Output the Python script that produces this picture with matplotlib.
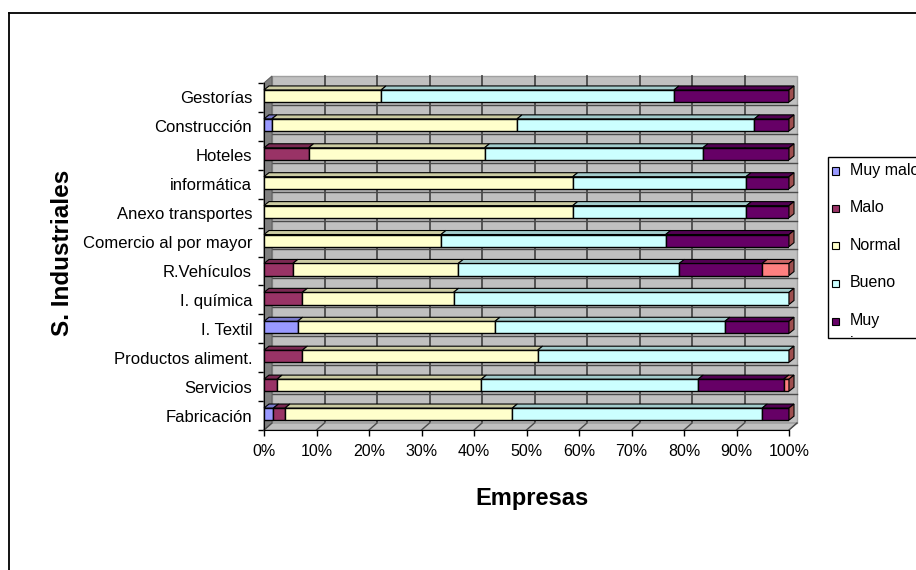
import matplotlib
matplotlib.use("Agg")
import matplotlib.pyplot as plt
from matplotlib.patches import Polygon, Rectangle
from matplotlib.lines import Line2D
from matplotlib.transforms import Bbox, TransformedBbox
import numpy as np

plt.rcParams['font.family'] = ['Liberation Sans', 'DejaVu Sans']

# ---- data -------------------------------------------------------------
categories = ["Fabricación", "Servicios", "Productos aliment.", "I. Textil",
              "I. química", "R.Vehículos", "Comercio al por mayor",
              "Anexo transportes", "informática", "Hoteles",
              "Construcción", "Gestorías"]

series_names = ["Muy malo", "Malo", "Normal", "Bueno", "Muy bueno", "NS/NC"]

muy_malo  = [1.8, 0.0, 0.0, 6.4, 0.0, 0.0, 0.0, 0.0, 0.0, 0.0, 1.5, 0.0]
malo      = [2.2, 2.5, 7.3, 0.0, 7.3, 5.5, 0.0, 0.0, 0.0, 8.5, 0.0, 0.0]
normal    = [43.3, 38.9, 44.8, 37.6, 28.8, 31.5, 33.7, 58.8, 58.8, 33.5, 46.7, 22.3]
bueno     = [47.6, 41.3, 47.9, 43.8, 63.9, 42.1, 42.8, 33.1, 33.0, 41.6, 45.2, 55.8]
muy_bueno = [5.1, 16.3, 0.0, 12.2, 0.0, 15.8, 23.5, 8.1, 8.2, 16.4, 6.6, 21.9]
ns_nc     = [0.0, 1.0, 0.0, 0.0, 0.0, 5.1, 0.0, 0.0, 0.0, 0.0, 0.0, 0.0]

xticks = list(range(0, 101, 10))
xtick_labels = [f"{v}%" for v in xticks]

legend_labels = ["Muy malo", "Malo", "Normal", "Bueno", "Muy\nbueno"]

# ---- style ------------------------------------------------------------
colors = ["#9999FF", "#993366", "#FFFFCC", "#CCFFFF", "#660066", "#FF8080"]
wall_back = "#C0C0C0"
wall_side = "#808080"
grid_col = "#4a4a4a"

W, H = 916, 570
fig = plt.figure(figsize=(W / 100, H / 100), dpi=100)
fig.patch.set_facecolor("white")


def fx(x):
    return x / W


def fy(y):
    return 1 - y / H


ax = fig.add_axes([fx(264), fy(430), 525 / W, 347 / H])
ax.set_facecolor("none")
ax.set_xlim(0, 100)
ax.set_ylim(-0.5, len(categories) - 0.5)

# depth of the walls and bars, converted from pixels to data units
p0 = ax.transData.transform((0, 0))
p1 = ax.transData.transform((1, 1))
ux, uy = p1[0] - p0[0], p1[1] - p0[1]
wdx, wdy = 8 / ux, 7 / uy
bdx, bdy = 5 / ux, 4 / uy

y0, y1 = -0.5, len(categories) - 0.5

# back wall
ax.add_patch(Polygon([(wdx, y0 + wdy), (100 + wdx, y0 + wdy),
                      (100 + wdx, y1 + wdy), (wdx, y1 + wdy)],
                     closed=True, facecolor=wall_back, edgecolor="#a0a0a0",
                     lw=1, clip_on=False, zorder=1))
# gridlines on back wall
for v in xticks[1:-1]:
    ax.add_line(Line2D([v + wdx, v + wdx], [y0 + wdy, y1 + wdy], color=grid_col,
                       lw=1.3, clip_on=False, zorder=2))
for b in np.arange(y0 + 1, y1, 1.0):
    ax.add_line(Line2D([wdx, 100 + wdx], [b + wdy, b + wdy], color=grid_col,
                       lw=1.0, clip_on=False, zorder=2))
# left wall
ax.add_patch(Polygon([(0, y0), (wdx, y0 + wdy), (wdx, y1 + wdy), (0, y1)],
                     closed=True, facecolor=wall_side, edgecolor="#606060",
                     lw=0.8, clip_on=False, zorder=2))
# floor
ax.add_patch(Polygon([(0, y0), (100, y0), (100 + wdx, y0 + wdy), (wdx, y0 + wdy)],
                     closed=True, facecolor=wall_back, edgecolor="#909090",
                     lw=0.8, clip_on=False, zorder=2))
for v in xticks:
    ax.add_line(Line2D([v, v + wdx], [y0, y0 + wdy], color=grid_col,
                       lw=1.0, clip_on=False, zorder=2.5))


def shade(c, f):
    r, g, b = matplotlib.colors.to_rgb(c)
    return (r * f, g * f, b * f)


# bars
data = [muy_malo, malo, normal, bueno, muy_bueno, ns_nc]
ypos = np.arange(len(categories)) + 0.05
bh = 0.42
left = np.zeros(len(categories))
for k, vals in enumerate(data):
    vals = np.asarray(vals)
    mask = vals > 0
    ax.barh(ypos[mask], vals[mask], left=left[mask], height=bh,
            color=colors[k], edgecolor="black", lw=1.0, zorder=5)
    for i in np.where(mask)[0]:
        xa, xb = left[i], left[i] + vals[i]
        yt = ypos[i] + bh / 2
        ax.add_patch(Polygon([(xa, yt), (xb, yt), (xb + bdx, yt + bdy),
                              (xa + bdx, yt + bdy)], closed=True,
                             facecolor=shade(colors[k], 0.8), edgecolor="black",
                             lw=0.8, clip_on=False, zorder=5))
    left = left + vals

# right end cap of each bar (side face of the last series)
for i in range(len(categories)):
    xe = left[i]
    yb, yt = ypos[i] - bh / 2, ypos[i] + bh / 2
    ax.add_patch(Polygon([(xe, yb), (xe + bdx, yb + bdy), (xe + bdx, yt + bdy),
                          (xe, yt)], closed=True,
                         facecolor=shade(colors[5], 0.62), edgecolor="black",
                         lw=0.8, clip_on=False, zorder=6))

# axes, ticks and labels
for s in ["top", "right"]:
    ax.spines[s].set_visible(False)
ax.spines["left"].set_color("black")
ax.spines["bottom"].set_color("black")
ax.spines["left"].set_zorder(3)
ax.spines["bottom"].set_zorder(3)

ax.set_xticks(xticks)
ax.set_xticklabels(xtick_labels, fontsize=11.5)
ax.tick_params(axis="x", direction="out", length=4.5, width=1, pad=5.5,
               color="black")
ax.set_yticks(np.arange(len(categories)))
ax.set_yticklabels(categories, fontsize=12)
ax.tick_params(axis="y", which="major", length=0, pad=8.6)
ax.set_yticks(np.arange(y0, y1 + 0.01, 1.0), minor=True)
ax.tick_params(axis="y", which="minor", direction="out", length=4.5, width=1,
               color="black")

fig.text(fx(63), fy(253), "S. Industriales", rotation=90, fontsize=17.5,
         fontweight="bold", ha="center", va="center")
fig.text(fx(532), fy(498), "Empresas", fontsize=17, fontweight="bold",
         ha="center", va="center")

# chart frame (left and top border)
fig.add_artist(Line2D([fx(8.5), fx(8.5)], [fy(12.5), 0], color="black",
                      lw=1.3, transform=fig.transFigure))
fig.add_artist(Line2D([fx(8.5), 1], [fy(12.5), fy(12.5)], color="black",
                      lw=1.3, transform=fig.transFigure))

# legend box
leg_top, leg_bottom = 157, 338
leg_box = Rectangle((fx(828), fy(leg_bottom)), fx(940) - fx(828),
                    fy(leg_top) - fy(leg_bottom),
                    transform=fig.transFigure, facecolor="white",
                    edgecolor="black", lw=1.0)
fig.add_artist(leg_box)
clip = TransformedBbox(Bbox.from_extents(fx(828), fy(leg_bottom - 1),
                                         fx(940), fy(leg_top)),
                       fig.transFigure)
for k, lab in enumerate(legend_labels):
    yc = 171 + 37.5 * k
    fig.add_artist(Rectangle((fx(832), fy(yc + 3.5)), 7 / W, 7 / H,
                             transform=fig.transFigure, facecolor=colors[k],
                             edgecolor="black", lw=0.8))
    t = fig.text(fx(850), fy(yc - 8.5), lab, fontsize=11.5, ha="left", va="top",
                 linespacing=1.75)
    t.set_clip_on(True)
    t.set_clip_box(clip)

fig.savefig("out.png", dpi=100)
